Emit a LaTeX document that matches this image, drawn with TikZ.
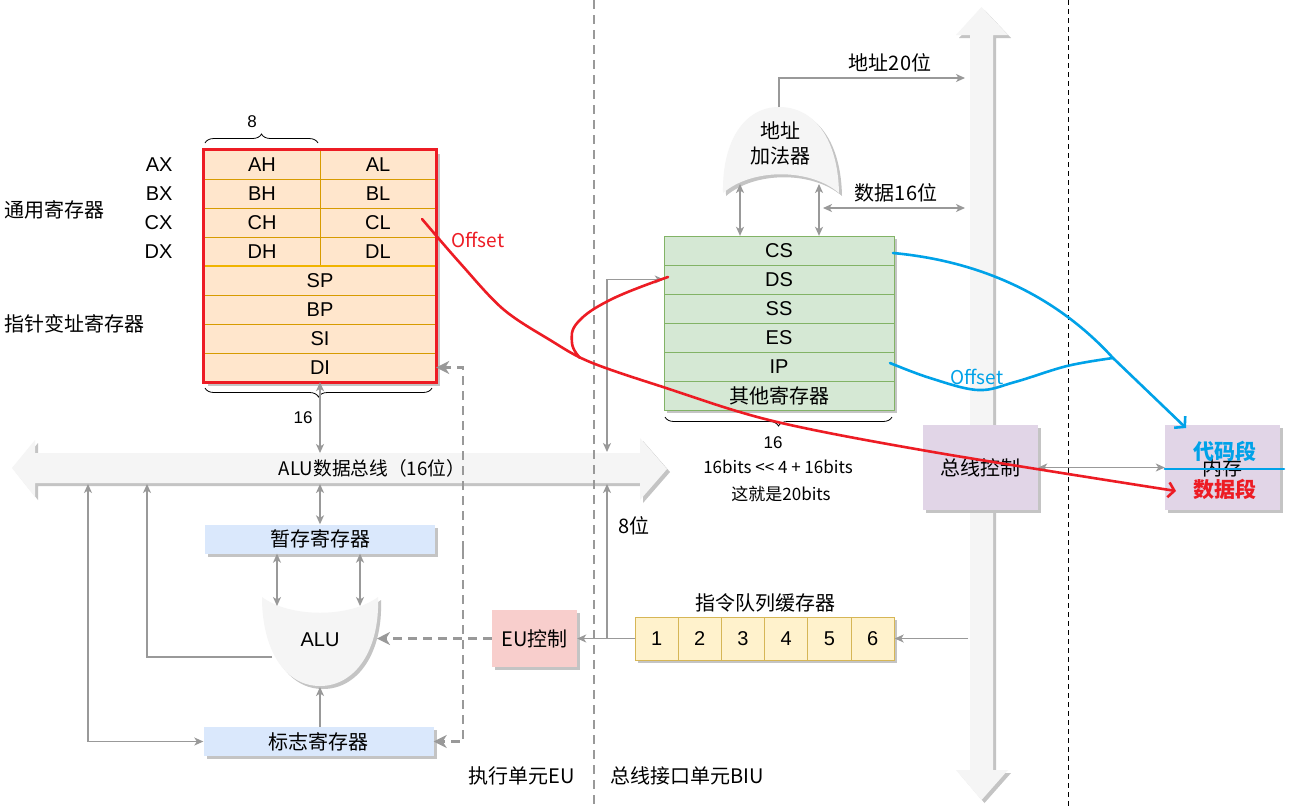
\documentclass[tikz,border=0pt]{standalone}
\usepackage{fontspec}
\setmainfont{Liberation Sans}
\newfontfamily\cjk{Noto Sans CJK SC}
\usetikzlibrary{arrows.meta,decorations.pathreplacing,fit,calc,shadows}
\definecolor{regf}{HTML}{FFE6CC}
\definecolor{regst}{HTML}{D79B00}
\definecolor{segf}{HTML}{D5E8D4}
\definecolor{segst}{HTML}{82B366}
\definecolor{qf}{HTML}{FFF2CC}
\definecolor{qst}{HTML}{D6B656}
\definecolor{bluef}{HTML}{DAE8FC}
\definecolor{pinkf}{HTML}{F8CECC}
\definecolor{purf}{HTML}{E1D5E7}
\definecolor{grf}{HTML}{F5F5F5}
\definecolor{lg}{HTML}{999999}
\definecolor{shd}{HTML}{C4C4C4}
\definecolor{pred}{HTML}{ED1C24}
\definecolor{pblue}{HTML}{00A2E8}
\definecolor{orgl}{HTML}{F0B400}
\begin{document}
\begin{tikzpicture}[x=1pt,y=-1pt,
  lat/.style={font=\fontsize{20}{22}\selectfont},
  cj/.style={font=\cjk\fontsize{20}{25}\selectfont},
  small/.style={font=\cjk\fontsize{17}{19}\selectfont},
  hand/.style={font=\fontsize{17}{19}\selectfont},
  shad/.style={drop shadow={shadow xshift=3pt,shadow yshift=-3pt,fill=shd,opacity=1}},
  reg/.style={draw=regst,fill=regf,minimum height=29pt,inner sep=0pt,lat},
  seg/.style={draw=segst,fill=segf,minimum width=230pt,minimum height=29pt,inner sep=0pt,lat},
  qcell/.style={draw=qst,fill=qf,line width=1pt,minimum width=43.2pt,minimum height=43pt,inner sep=0pt,lat,shad},
  flatbox/.style={minimum width=230pt,minimum height=29pt,inner sep=0pt,cj,shad},
  ln/.style={draw=lg,line width=1.3pt},
  arr/.style={ln,-{Stealth[length=9pt,width=8pt,inset=2.5pt]}},
  darr/.style={ln,{Stealth[length=9pt,width=8pt,inset=2.5pt]}-{Stealth[length=9pt,width=8pt,inset=2.5pt]}},
  dgr/.style={draw=lg,line width=2.5pt,dash pattern=on 9pt off 6pt},
  dtip/.style={-{Stealth[length=13pt,width=13pt,inset=4pt]}},
  redc/.style={draw=pred,line width=2.6pt,line cap=round,line join=round},
  bluec/.style={draw=pblue,line width=2.6pt,line cap=round,line join=round},
  brc/.style={draw=black,line width=0.8pt,decorate,decoration={brace,amplitude=9pt}}
]
\useasboundingbox (0,0) rectangle (1290,807);
\fill[white] (0,0) rectangle (1290,807);

% ---------- coordinates ----------
\coordinate (busTop) at (0,453);
\coordinate (busBot) at (0,484);
\coordinate (busB147) at (147,484);
\coordinate (busB88) at (88,484);
\coordinate (busT607) at (607,452);
\coordinate (busB607) at (607,484);
\coordinate (qj) at (607,638.5);
\coordinate (dv) at (463,550);
\coordinate (aluTL) at (277,606);
\coordinate (aluTR) at (360,606);
\coordinate (aluB) at (320,687);
\coordinate (aluL) at (272,657);
\coordinate (aluR) at (377,638.5);
\coordinate (adTop) at (779,107);
\coordinate (adL) at (740,184);
\coordinate (adR) at (819,184);
\coordinate (adD) at (823,208);
\coordinate (vb20) at (965,78);
\coordinate (vb16) at (965,208);
\coordinate (vbq) at (968,638.5);

% ---------- horizontal ALU bus ----------
\fill[shd] (15,471) -- (38,443) -- (38,456) -- (643,456) -- (643,441) -- (670,472) -- (643,503) -- (643,486) -- (38,486) -- (38,500) -- cycle;
\fill[grf] (12,468) -- (35,440) -- (35,453) -- (640,453) -- (640,438) -- (667,469) -- (640,500) -- (640,483) -- (35,483) -- (35,497) -- cycle;
\node[font=\cjk\fontsize{18.7}{22}\selectfont] (buslbl) at (372,468) {ALU数据总线（16位）};

% ---------- vertical system bus ----------
\fill[shd] (984.5,10) -- (1011,38) -- (996,38) -- (996,773) -- (1011,773) -- (984.5,803) -- (959,773) -- (973,773) -- (973,38) -- (959,38) -- cycle;
\fill[grf] (981.5,7) -- (1008,35) -- (993,35) -- (993,770) -- (1008,770) -- (981.5,800) -- (956,770) -- (970,770) -- (970,35) -- (956,35) -- cycle;

% ---------- general registers ----------
\fill[shd] (208,154) rectangle (440,386);
\node[reg,minimum width=116pt] (ah) at (262,164.5) {AH};
\node[reg,minimum width=116pt] (al) at (378,164.5) {AL};
\node[reg,minimum width=116pt] (bh) at (262,193.5) {BH};
\node[reg,minimum width=116pt] (bl) at (378,193.5) {BL};
\node[reg,minimum width=116pt] (ch) at (262,222.5) {CH};
\node[reg,minimum width=116pt] (cl) at (378,222.5) {CL};
\node[reg,minimum width=116pt] (dh) at (262,251.5) {DH};
\node[reg,minimum width=116pt] (dl) at (378,251.5) {DL};
\node[reg,minimum width=232pt] (sp) at (320,280.5) {SP};
\node[reg,minimum width=232pt] (bp) at (320,309.5) {BP};
\node[reg,minimum width=232pt] (si) at (320,338.5) {SI};
\node[reg,minimum width=232pt] (di) at (320,367.5) {DI};
\draw[orgl,line width=2.5pt] (dh.south west) -- (dl.south east);
\node[draw=pred,line width=3pt,fit=(ah)(di),inner sep=0pt] (regs) {};

\node[lat,anchor=east] (lax) at (176,164.5) {AX};
\node[lat,anchor=east] (lbx) at (176,193.5) {BX};
\node[lat,anchor=east] (lcx) at (176,222.5) {CX};
\node[lat,anchor=east] (ldx) at (176,251.5) {DX};
\node[cj,anchor=west] (lgen) at (1,210) {通用寄存器};
\node[cj,anchor=west] (lptr) at (1,324) {指针变址寄存器};

\draw[brc] (205,143) -- (318,143);
\node[hand] (b8) at (252,122) {8};
\draw[brc,decoration={mirror}] (205,388) -- (432,388);
\node[hand] (b16a) at (303,418) {16};

% ---------- EU part ----------
\node[flatbox,fill=bluef] (tmp) at (320,539) {暂存寄存器};
\node[flatbox,fill=bluef] (flags) at (318.5,741.5) {标志寄存器};
\node[cj,fill=pinkf,minimum width=85pt,minimum height=57pt,inner sep=0pt,shad] (euc) at (534.5,638.5) {EU控制};

\path[fill=grf,shad] (262,597) .. controls (290,618) and (350,618) .. (378,597)
  .. controls (380,650) and (355,686) .. (320,686)
  .. controls (285,686) and (262,650) .. (262,597) -- cycle;
\node[lat] (alu) at (320,640) {ALU};

\draw[darr] (di.south) -- (di.south |- busTop);
\draw[darr] (tmp.north |- busBot) -- (tmp.north);
\draw[darr] (tmp.south -| aluTL) -- (aluTL);
\draw[darr] (tmp.south -| aluTR) -- (aluTR);
\draw[arr] (flags.north -| aluB) -- (aluB);
\draw[arr] (aluL) -| (busB147);
\draw[darr] (flags.west) -| (busB88);

\draw[dgr,dtip] (euc.west) -- (aluR);
\draw[dgr,dtip] (dv) |- (di.east);
\draw[dgr,dtip] (dv) |- (flags.east);

% ---------- separators ----------
\draw[draw=lg,line width=2.2pt,dash pattern=on 9pt off 6pt] (594,0) -- (594,807);
\draw[black,line width=1pt,dash pattern=on 5pt off 4pt] (1068,0) -- (1068,807);
\node[cj] (leu) at (522,776) {执行单元EU};
\node[cj] (lbiu) at (687,776) {总线接口单元BIU};

% ---------- instruction queue ----------
\node[cj] (qlbl) at (765,603) {指令队列缓存器};
\node[qcell] (q1) at (656.6,638.5) {1};
\node[qcell] (q2) at (699.8,638.5) {2};
\node[qcell] (q3) at (743.0,638.5) {3};
\node[qcell] (q4) at (786.2,638.5) {4};
\node[qcell] (q5) at (829.4,638.5) {5};
\node[qcell] (q6) at (872.6,638.5) {6};
\draw[arr] (q1.west) -- (euc.east);
\draw[arr] (qj) -- (busB607);
\draw[arr] (vbq) -- (q6.east);
\node[cj] (l8) at (634,526) {8位};

% ---------- segment registers ----------
\fill[shd] (667,239) rectangle (897,413);
\node[seg] (cs) at (779,250.5) {CS};
\node[seg] (ds) at (779,279.5) {DS};
\node[seg] (ss) at (779,308.5) {SS};
\node[seg] (es) at (779,337.5) {ES};
\node[seg] (ip) at (779,366.5) {IP};
\node[seg,cj] (oth) at (779,395.5) {其他寄存器};
\draw[darr] (ds.west) -| (busT607);

\draw[brc,decoration={mirror}] (665,417) -- (892,417);
\node[hand] (b16b) at (773,443) {16};
\node[small] (formula) at (778,467) {16bits <{}< 4 + 16bits};
\node[small] (is20) at (781,494) {这就是20bits};

% ---------- address adder ----------
\path[fill=grf,shad] (723,193) .. controls (722,140) and (745,107) .. (779,107)
  .. controls (815,107) and (838,140) .. (839,193)
  .. controls (810,168) and (752,168) .. (723,193) -- cycle;
\node[cj,align=center] (adder) at (780,143) {地址\\加法器};
\draw[darr] (adL) -- (adL |- cs.north);
\draw[darr] (adR) -- (adR |- cs.north);
\draw[arr] (adTop) |- (vb20);
\draw[darr] (adD) -- (vb16);
\node[cj] (l20) at (890,63) {地址20位};
\node[cj] (l16) at (896,193) {数据16位};

% ---------- bus control and memory ----------
\node[cj,fill=purf,minimum width=115pt,minimum height=85pt,inner sep=0pt,shad] (buc) at (980.5,467.5) {总线控制};
\node[cj,fill=purf,minimum width=115pt,minimum height=85pt,inner sep=0pt,shad] (mem) at (1222.5,467.5) {内存};
\draw[darr] (buc.east) -- (mem.west);
\node[text=pblue,font=\cjk\bfseries\fontsize{21}{24}\selectfont] (code) at (1225,451) {代码段};
\node[text=pred,font=\cjk\bfseries\fontsize{21}{24}\selectfont] (data) at (1225,489) {数据段};
\draw[bluec] (mem.west |- 0,469) -- (1284,469);

% ---------- hand-drawn annotations ----------
\coordinate (clp) at (422,219);
\coordinate (dsp) at (668,277);
\coordinate (ipp) at (890,363);
\coordinate (csp) at (893,253);
\coordinate (join) at (1113,358);
\coordinate (dataend) at (1176,491);
\coordinate (codeend) at (1186,428);
\draw[redc,-{Straight Barb[length=6pt,width=15pt]}] plot[smooth,tension=0.55] coordinates {(clp) (460,263) (503,309) (550,340) (590,362) (663,387) (773,421) (933,452) (dataend)};
\draw[redc] plot[smooth,tension=0.7] coordinates {(dsp) (612,299) (578,322) (572,343) (580,358)};
\node[font=\cjk\fontsize{19}{21}\selectfont,text=pred] (offr) at (478,240) {Offset};
\draw[bluec,-{Straight Barb[length=7pt,width=16pt]}] (csp) .. controls (990,262) and (1062,302) .. (join) -- (codeend);
\draw[bluec] plot[smooth,tension=0.6] coordinates {(ipp) (930,378) (978,390) (1015,382) (1067,366) (join)};
\node[font=\cjk\fontsize{19}{21}\selectfont,text=pblue] (offb) at (977,377) {Offset};
\end{tikzpicture}
\end{document}
